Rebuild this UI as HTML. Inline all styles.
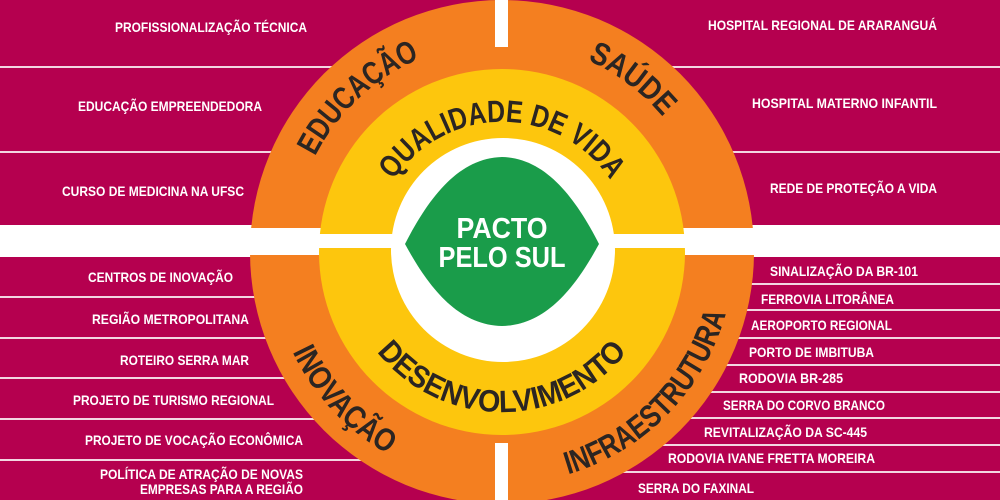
<!DOCTYPE html>
<html><head><meta charset="utf-8"><style>
html,body{margin:0;padding:0;background:#fff;}
svg{display:block;}
.l{font-family:"Liberation Sans",sans-serif;font-weight:bold;font-size:14px;fill:#fff;}
.c{font-family:"Liberation Sans",sans-serif;font-weight:bold;fill:#2b2522;}
</style></head><body>
<svg width="1000" height="500" viewBox="0 0 1000 500" xmlns="http://www.w3.org/2000/svg">
<rect width="1000" height="500" fill="#b5004f"/>
<rect x="0" y="225" width="1000" height="32" fill="#fff"/>
<g fill="#f3d6e2">
<rect x="0" y="66" width="1000" height="2"/>
<rect x="0" y="151" width="1000" height="2"/>
<rect x="0" y="296" width="500" height="2"/>
<rect x="0" y="337" width="500" height="2"/>
<rect x="0" y="377" width="500" height="2"/>
<rect x="0" y="418" width="500" height="2"/>
<rect x="0" y="459" width="500" height="2"/>
<rect x="500" y="283" width="500" height="2"/>
<rect x="500" y="309" width="500" height="2"/>
<rect x="500" y="337" width="500" height="2"/>
<rect x="500" y="364" width="500" height="2"/>
<rect x="500" y="391" width="500" height="2"/>
<rect x="500" y="417" width="500" height="2"/>
<rect x="500" y="444" width="500" height="2"/>
<rect x="500" y="471" width="500" height="2"/>
</g>
<circle cx="502" cy="252" r="252" fill="#f47f20"/>
<rect x="240" y="228" width="530" height="27" fill="#fff"/>
<rect x="495" y="0" width="13" height="47" fill="#fff"/>
<rect x="495" y="443" width="13" height="60" fill="#fff"/>
<circle cx="502" cy="252" r="183" fill="#fdc60d"/>
<rect x="310" y="234" width="385" height="14" fill="#fff"/>
<circle cx="503" cy="250" r="112" fill="#fff"/>
<path d="M405,244 C430,195 460,158 502,157 C544,158 574,195 599,244 C574,290 545,325 502,326 C459,325 430,290 405,244Z" fill="#1a9c4a"/>
<text x="502" y="238" text-anchor="middle" font-family="Liberation Sans,sans-serif" font-weight="bold" font-size="29" fill="#fff" textLength="91" lengthAdjust="spacingAndGlyphs">PACTO</text>
<text x="502" y="267" text-anchor="middle" font-family="Liberation Sans,sans-serif" font-weight="bold" font-size="29" fill="#fff" textLength="127" lengthAdjust="spacingAndGlyphs">PELO SUL</text>
<defs>
<path id="pq" d="M379.8,207.5 A130,130 0 0 1 624.2,207.5"/>
<path id="pe" d="M292.1,244.7 A210,210 0 0 1 509.3,42.1"/>
<path id="ps" d="M472.8,44.0 A210,210 0 0 1 710.0,222.8"/>
<path id="pd" d="M351.6,306.7 A160,160 0 0 0 652.4,306.7"/>
<path id="pi" d="M280.1,184.2 A232,232 0 0 0 554.2,478.1"/>
<path id="pf" d="M444.3,476.7 A232,232 0 0 0 725.5,189.6"/>
</defs>
<text class="c" font-size="31"><textPath href="#pq" startOffset="50%" text-anchor="middle" textLength="256" lengthAdjust="spacingAndGlyphs">QUALIDADE DE VIDA</textPath></text>
<text class="c" font-size="32"><textPath href="#pe" startOffset="50%" text-anchor="middle" textLength="146" lengthAdjust="spacingAndGlyphs">EDUCAÇÃO</textPath></text>
<text class="c" font-size="32"><textPath href="#ps" startOffset="50%" text-anchor="middle" textLength="95" lengthAdjust="spacingAndGlyphs">SAÚDE</textPath></text>
<text class="c" font-size="31"><textPath href="#pd" startOffset="50%" text-anchor="middle" textLength="287" lengthAdjust="spacingAndGlyphs">DESENVOLVIMENTO</textPath></text>
<text class="c" font-size="32"><textPath href="#pi" startOffset="50%" text-anchor="middle" textLength="142" lengthAdjust="spacingAndGlyphs">INOVAÇÃO</textPath></text>
<text class="c" font-size="32"><textPath href="#pf" startOffset="50%" text-anchor="middle" textLength="235" lengthAdjust="spacingAndGlyphs">INFRAESTRUTURA</textPath></text>
<g class="l">
<text x="115" y="32" textLength="192" lengthAdjust="spacingAndGlyphs">PROFISSIONALIZAÇÃO TÉCNICA</text>
<text x="78" y="111" textLength="184" lengthAdjust="spacingAndGlyphs">EDUCAÇÃO EMPREENDEDORA</text>
<text x="62" y="196" textLength="182" lengthAdjust="spacingAndGlyphs">CURSO DE MEDICINA NA UFSC</text>
<text x="88" y="282" textLength="145" lengthAdjust="spacingAndGlyphs">CENTROS DE INOVAÇÃO</text>
<text x="92" y="324" textLength="157" lengthAdjust="spacingAndGlyphs">REGIÃO METROPOLITANA</text>
<text x="120" y="365" textLength="129" lengthAdjust="spacingAndGlyphs">ROTEIRO SERRA MAR</text>
<text x="73" y="405" textLength="201" lengthAdjust="spacingAndGlyphs">PROJETO DE TURISMO REGIONAL</text>
<text x="85" y="445" textLength="218" lengthAdjust="spacingAndGlyphs">PROJETO DE VOCAÇÃO ECONÔMICA</text>
<text x="100" y="479" textLength="203" lengthAdjust="spacingAndGlyphs">POLÍTICA DE ATRAÇÃO DE NOVAS</text>
<text x="140" y="494" textLength="163" lengthAdjust="spacingAndGlyphs">EMPRESAS PARA A REGIÃO</text>
<text x="708" y="30" textLength="229" lengthAdjust="spacingAndGlyphs">HOSPITAL REGIONAL DE ARARANGUÁ</text>
<text x="752" y="108" textLength="185" lengthAdjust="spacingAndGlyphs">HOSPITAL MATERNO INFANTIL</text>
<text x="770" y="193" textLength="167" lengthAdjust="spacingAndGlyphs">REDE DE PROTEÇÃO A VIDA</text>
<text x="770" y="276" textLength="148" lengthAdjust="spacingAndGlyphs">SINALIZAÇÃO DA BR-101</text>
<text x="761" y="304" textLength="133" lengthAdjust="spacingAndGlyphs">FERROVIA LITORÂNEA</text>
<text x="751" y="330" textLength="141" lengthAdjust="spacingAndGlyphs">AEROPORTO REGIONAL</text>
<text x="749" y="357" textLength="125" lengthAdjust="spacingAndGlyphs">PORTO DE IMBITUBA</text>
<text x="739" y="383" textLength="104" lengthAdjust="spacingAndGlyphs">RODOVIA BR-285</text>
<text x="723" y="410" textLength="162" lengthAdjust="spacingAndGlyphs">SERRA DO CORVO BRANCO</text>
<text x="704" y="437" textLength="163" lengthAdjust="spacingAndGlyphs">REVITALIZAÇÃO DA SC-445</text>
<text x="668" y="463" textLength="207" lengthAdjust="spacingAndGlyphs">RODOVIA IVANE FRETTA MOREIRA</text>
<text x="638" y="493" textLength="116" lengthAdjust="spacingAndGlyphs">SERRA DO FAXINAL</text>
</g>
</svg>
</body></html>
